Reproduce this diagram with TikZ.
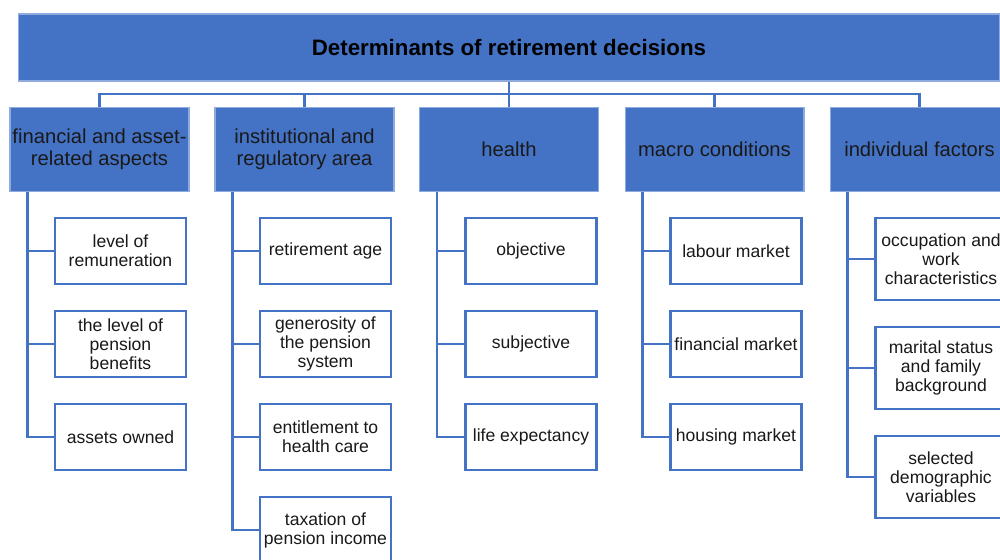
\documentclass[tikz,border=0pt]{standalone}
\usepackage{fontspec}
\setmainfont{Liberation Sans}
\usepackage{xcolor}
\definecolor{boxblue}{RGB}{68,114,196}
\definecolor{edgeblue}{RGB}{143,170,220}
\definecolor{textdark}{RGB}{25,25,25}
\usetikzlibrary{positioning}

\tikzset{
  topbox/.style={draw=edgeblue, fill=boxblue, line width=0.6pt, minimum width=19.64cm,
    minimum height=1.34cm, inner sep=0pt, font=\fontsize{12.7}{14}\selectfont\bfseries},
  catbox/.style={draw=edgeblue, fill=boxblue, line width=0.6pt, minimum width=3.58cm,
    minimum height=1.68cm, inner sep=0pt, align=center, text=textdark,
    font=\fontsize{11.5}{12.5}\selectfont},
  itembox/.style={draw=boxblue, fill=white, line width=1.4pt, minimum width=2.62cm,
    minimum height=1.32cm, inner sep=0pt, align=center, text=textdark,
    font=\fontsize{10}{10.8}\selectfont},
  tallbox/.style={itembox, minimum height=1.64cm},
  link/.style={draw=boxblue, line width=1.4pt},
}

\begin{document}
\begin{tikzpicture}[x=0.02cm, y=-0.02cm]
\useasboundingbox (0,0) rectangle (1000,559);
\clip (0,0) rectangle (1000,559);

% --- Root ---
\node[topbox] (root) at (509,47.5) {Determinants of retirement decisions};

% --- Categories ---
\node[catbox] (fin)    at (99.5,149.5)  {financial and asset-\\related aspects};
\node[catbox] (inst)   at (304.5,149.5) {institutional and\\regulatory area};
\node[catbox] (health) at (509,149.5)   {health};
\node[catbox] (macro)  at (714.5,149.5) {macro conditions};
\node[catbox] (indiv)  at (919.5,149.5) {individual factors};

% root to categories
\coordinate (bus) at (509,94);
\foreach \c in {fin,inst,health,macro,indiv}
  \draw[link] (root.south) -- (bus) -| (\c.north);

% --- Financial ---
\node[itembox] (fin1) at (120.5,251) {level of\\remuneration};
\node[itembox] (fin2) at (120.5,344) {the level of\\pension\\benefits};
\node[itembox] (fin3) at (120.5,437) {assets owned};

% --- Institutional ---
\node[itembox] (inst1) at (325.5,251) {retirement age};
\node[itembox] (inst2) at (325.5,344) {generosity of\\the pension\\system};
\node[itembox] (inst3) at (325.5,437) {entitlement to\\health care};
\node[itembox] (inst4) at (325.5,530) {taxation of\\pension income};

% --- Health ---
\node[itembox] (health1) at (531,251) {objective};
\node[itembox] (health2) at (531,344) {subjective};
\node[itembox] (health3) at (531,437) {life expectancy};

% --- Macro ---
\node[itembox] (macro1) at (736,251) {labour market};
\node[itembox] (macro2) at (736,344) {financial market};
\node[itembox] (macro3) at (736,437) {housing market};

% --- Individual ---
\node[tallbox] (indiv1) at (941,259) {occupation and\\work\\characteristics};
\node[tallbox] (indiv2) at (941,368) {marital status\\and family\\background};
\node[tallbox] (indiv3) at (941,477) {selected\\demographic\\variables};

% categories to items
\foreach \c/\n in {fin/3, inst/4, health/3, macro/3, indiv/3}
  \foreach \i in {1,...,\n}
    \draw[link] ([xshift=3.6mm]\c.south west) |- (\c\i.west);

\end{tikzpicture}
\end{document}
